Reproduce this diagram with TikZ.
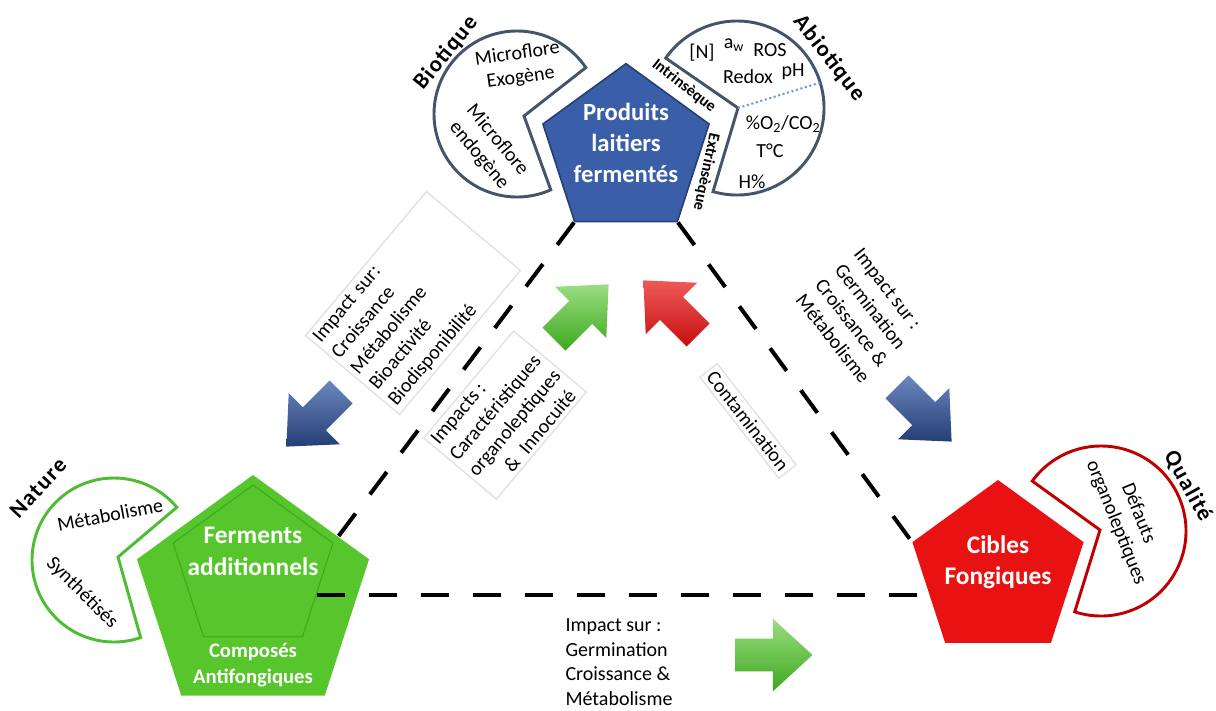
\documentclass[tikz,border=0pt]{standalone}
\usepackage{fontspec}
\setmainfont{Carlito}
\usetikzlibrary{shapes.geometric,shapes.arrows}

\definecolor{bleuP}{RGB}{58,95,168}
\definecolor{bleuB}{RGB}{36,62,118}
\definecolor{vertP}{RGB}{86,198,44}
\definecolor{vertB}{RGB}{62,168,30}
\definecolor{rougeP}{RGB}{232,18,18}
\definecolor{ardoise}{RGB}{68,84,106}
\definecolor{vertC}{RGB}{78,188,52}
\definecolor{rougeC}{RGB}{192,0,0}
\definecolor{bleuPt}{RGB}{91,155,213}

\begin{document}
\begin{tikzpicture}[x=0.75pt,y=0.75pt,yscale=-1,xscale=1,
  penta/.style={regular polygon, regular polygon sides=5, inner sep=0pt},
  titre/.style={text=white, font=\bfseries\fontsize{18.5}{23}\selectfont, align=center},
  petit/.style={font=\fontsize{15}{18}\selectfont, align=center, inner sep=1pt},
  etiq/.style={font=\bfseries\fontsize{17}{20}\selectfont\addfontfeature{LetterSpace=6}, inner sep=0pt},
  mini/.style={font=\bfseries\fontsize{12}{14}\selectfont, inner sep=0pt},
  cadre/.style={draw=black!12, line width=1pt, align=left, font=\fontsize{15}{18.5}\selectfont, inner sep=3pt},
  fleche/.style={single arrow, minimum height=58pt, inner xsep=0pt, inner ysep=12pt, single arrow head extend=15pt, single arrow tip angle=85},
  pointille/.style={dash pattern=on 21pt off 18pt, line width=3pt},
  camembert/.style={fill=white, line width=2.2pt, line join=miter}
]
\useasboundingbox (0,0) rectangle (1216,710);

%Pie Biotique
\draw [camembert, draw=ardoise] (524,116) -- ([shift={(-34:83)}]517,114) arc[start angle=-34, end angle=-294, radius=83] -- cycle;
%Pie Abiotique
\draw [camembert, draw=ardoise] (738,108) -- ([shift={(106:87)}]737,108) arc[start angle=106, end angle=-145, radius=87] -- cycle;
\draw [bleuPt, line width=1.5pt, dotted] (738,108) -- ([shift={(-17:87)}]737,108);
%Pie Nature
\draw [camembert, draw=vertC] (118,557) -- ([shift={(-40:82)}]114,560) arc[start angle=-40, end angle=-289, radius=82] -- cycle;
%Pie Qualite
\draw [camembert, draw=rougeC] (1100,530) -- ([shift={(108:85)}]1101,531) arc[start angle=108, end angle=-144, radius=85] -- cycle;

%Text boxes
\node [cadre, rotate=50, text width=135pt] (impactA) at (413,303) {Impact sur:\\Croissance\\Métabolisme\\Bioactivité\\Biodisponibilité};
\node [cadre, rotate=50] (impactB) at (505,415) {Impacts :\\Caractéristiques\\organoleptiques\\\hspace{1.3em}\&\enspace Innocuité};
\node [cadre, rotate=-52] (contam) at (748,421) {Contamination};
\node [cadre, draw=none, rotate=-52] (impactD) at (862,316) {Impact sur :\\Germination\\Croissance \&\\Métabolisme};
\node [cadre, draw=none] (impactE) at (619,662) {Impact sur :\\Germination\\Croissance \&\\Métabolisme};

%Pentagons
\node [penta, fill=bleuP, draw=bleuB, line width=1.2pt, minimum size=131pt] (prod) at (626,151) {};
\node [penta, fill=vertP, minimum size=183pt] (ferm) at (253,597) {};
\node [penta, fill=vertP, draw=vertB, line width=0.8pt, minimum size=126pt] (fermin) at (253,569) {};
\node [penta, fill=rougeP, minimum size=135pt] (cible) at (998,570) {};

\node [titre] (prodT) at (626,143) {Produits\\laitiers\\fermentés};
\node [titre, font=\bfseries\fontsize{19}{24}\selectfont] (fermT) at (253,551) {Ferments\\additionnels};
\node [titre, font=\bfseries\fontsize{15.5}{19.5}\selectfont] (compT) at (253,665) {Composés\\Antifongiques};
\node [titre, font=\bfseries\fontsize{19}{23}\selectfont] (cibleT) at (998,562) {Cibles\\Fongiques};

%Dashed Lines
\draw [pointille] (prod.corner 3) -- (fermin.corner 5);
\draw [pointille] (prod.corner 4) -- (cible.corner 2);
\draw [pointille] (fermin.-22) -- (fermin.-22 -| cible.203);

%Block Arrows
\node [fleche, rotate=-135, top color=bleuP!75!white, bottom color=bleuB] (flecheSO) at (320,413) {};
\node [fleche, rotate=45, top color=vertP!60!white, bottom color=vertB] (flecheNE) at (575,318) {};
\node [fleche, rotate=135, top color=rougeP!70!white, bottom color=rougeP!85!black] (flecheNO) at (677,314) {};
\node [fleche, rotate=-45, top color=bleuP!75!white, bottom color=bleuB] (flecheSE) at (918,408) {};
\node [fleche, top color=vertP!60!white, bottom color=vertB] (flecheE) at (765,655) {};

%Biotique texts
\node [etiq, rotate=51] (biot) at (446,53) {Biotique};
\node [petit, rotate=8] (exo) at (519,66) {Microflore\\Exogène};
\node [petit, rotate=-50] (endo) at (488,148) {Microflore\\endogène};

%Abiotique texts
\node [etiq, rotate=-52] (abiot) at (829,58) {Abiotique};
\node [mini, rotate=-38] (intr) at (684,86) {Intrinsèque};
\node [mini, rotate=-102] (extr) at (706,172) {Extrinsèque};
\node [petit] (azote) at (702,53) {[N]};
\node [petit] (aw) at (734,45) {a\textsubscript{w}};
\node [petit] (ros) at (770,50) {ROS};
\node [petit] (redox) at (748,77) {Redox};
\node [petit] (ph) at (793,72) {pH};
\node [petit] (gaz) at (783,124) {\%O\textsubscript{2}/CO\textsubscript{2}};
\node [petit] (temp) at (770,151) {T°C};
\node [petit] (hum) at (752,182) {H\%};

%Nature texts
\node [etiq, rotate=47] (nat) at (38,488) {Nature};
\node [petit, rotate=11] (meta) at (110,515) {Métabolisme};
\node [petit, rotate=-45] (synth) at (82,593) {Synthétisés};

%Qualite texts
\node [etiq, rotate=-61] (qual) at (1188,486) {Qualité};
\node [petit, rotate=-68] (defaut) at (1127,518) {Défauts\\organoleptiques};

\end{tikzpicture}
\end{document}
